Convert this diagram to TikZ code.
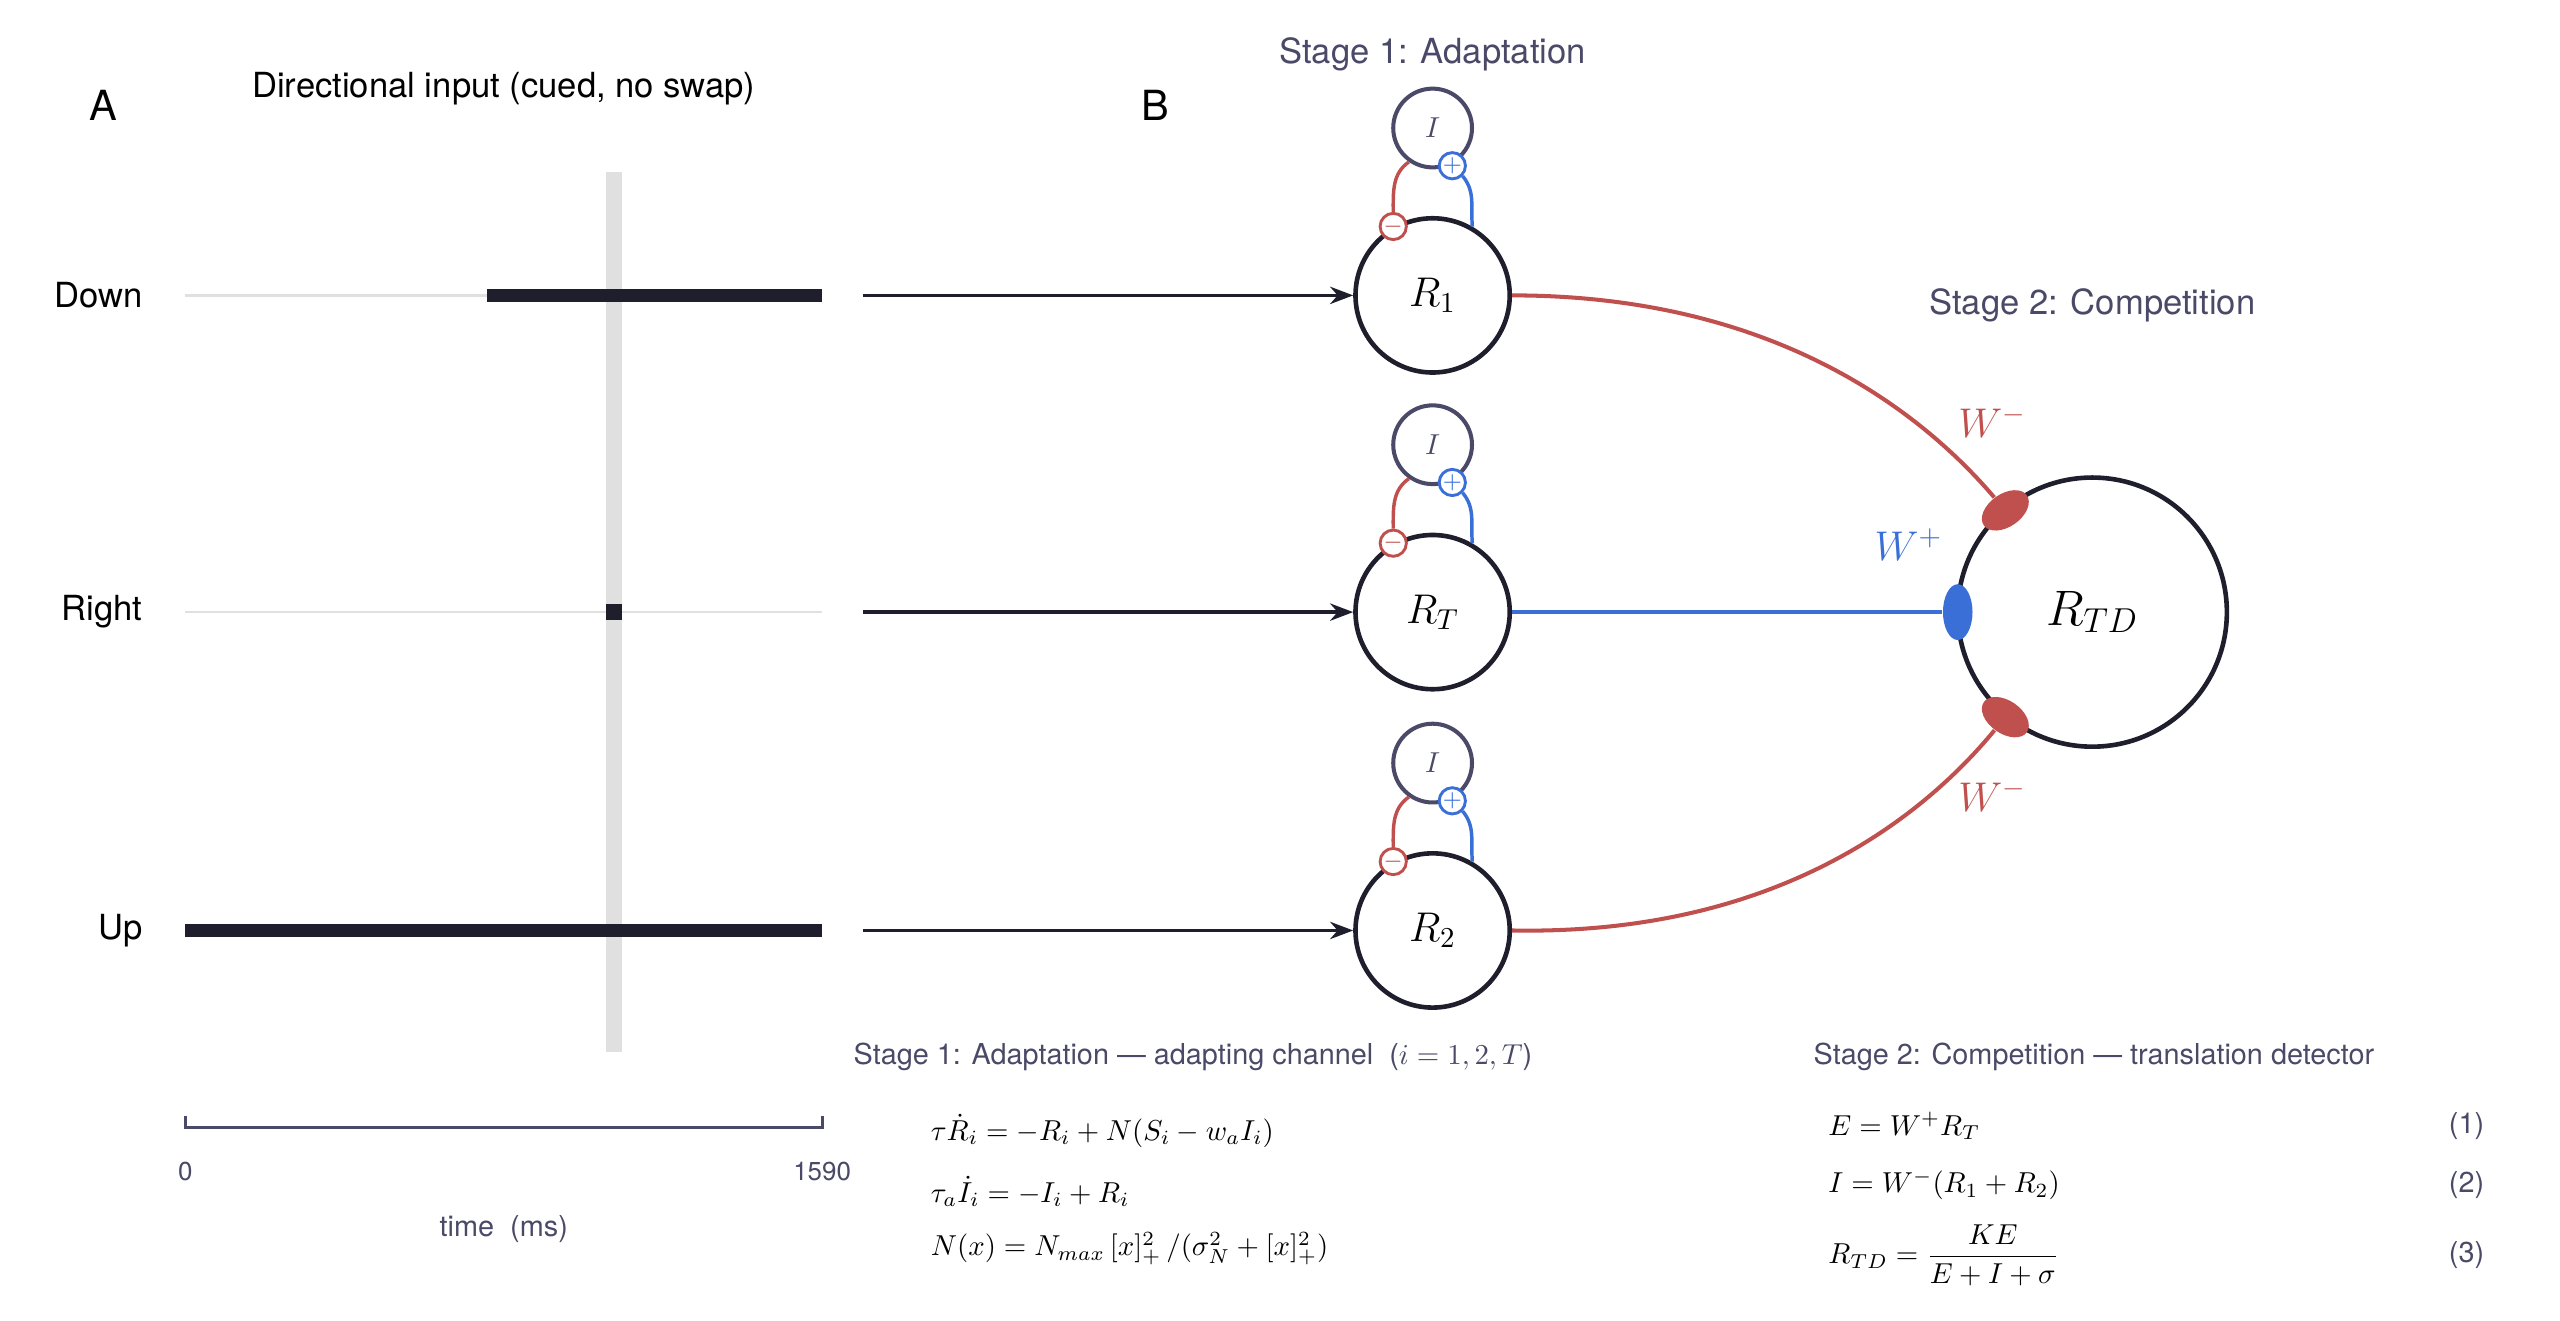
\documentclass[tikz,border=0pt]{standalone}
\usepackage{fontspec}
\setmainfont{TeX Gyre Heros}
\usepackage{amsmath}
\usetikzlibrary{positioning,calc,arrows.meta,shapes.geometric}
\definecolor{ink}{HTML}{1E1E2C}
\definecolor{slate}{HTML}{4A4A68}
\definecolor{redw}{HTML}{C0504D}
\definecolor{bluew}{HTML}{3A6FD8}
\definecolor{band}{HTML}{E0E0E0}
\newcommand{\pu}{*0.02cm}
\tikzset{
  unit/.style={circle, draw=ink, line width=1.6pt, minimum size=94\pu, inner sep=0pt, font=\Large},
  inh/.style={circle, draw=slate, line width=1.4pt, minimum size=48\pu, inner sep=0pt},
  plus/.style={circle, draw=bluew, fill=white, line width=1pt, minimum size=16\pu, inner sep=0pt, text=bluew, font=\footnotesize},
  minus/.style={circle, draw=redw, fill=white, line width=1pt, minimum size=16\pu, inner sep=0pt, text=redw, font=\footnotesize},
  rowlabel/.style={anchor=east, font=\large},
  feed/.style={-{Stealth[length=8pt]}, line width=1.2pt, draw=ink},
  stage/.style={text=slate, font=\large},
}
\begin{document}
\begin{tikzpicture}[x=0.02cm, y=-0.02cm]
\useasboundingbox (0,0) rectangle (1560,804.4);

% panel A
\node[font=\Large] (labA) at (63,64) {A};
\node[font=\large] (titA) at (307,54) {Directional input (cued, no swap)};
\fill[band] (369,105) rectangle (379,641);
\foreach \name/\yy in {Down/180, Right/373, Up/567}{
  \node[rowlabel] (lab\name) at (93,\yy) {\name};
  \draw[band, line width=0.8pt] (113,\yy) -- (501,\yy);
}
\draw[ink, line width=8\pu] (297,180) -- (501,180);
\fill[ink] (369,368) rectangle (379,378);
\draw[ink, line width=8\pu] (113,567) -- (501,567);
\draw[slate, line width=1pt] (113,680) -- (113,687) -- (501,687) -- (501,680);
\node[font=\small, text=slate] (t0) at (113,714) {0};
\node[font=\small, text=slate] (t1) at (501,714) {1590};
\node[text=slate] (tax) at (307,749) {time\ \ (ms)};

% panel B
\node[font=\Large] (labB) at (704,64) {B};
\node[stage] (st1) at (873,33) {Stage 1: Adaptation};
\node[stage] (st2) at (1275,186) {Stage 2: Competition};

\foreach \name/\lab/\yy in {one/R_1/180, tee/R_T/373, two/R_2/567}{
  \coordinate (in\name) at (526,\yy);
  \node[unit] (r\name) at (873,\yy) {$\lab$};
  \node[inh] (i\name) at ($(r\name)+(0,-102)$) {\textcolor{slate}{$I$}};
  \node[plus] (p\name) at ($(i\name)+(12,23)$) {$+$};
  \node[minus] (m\name) at ($(r\name)+(-24,-42)$) {$-$};
  \draw[feed] (in\name) -- (r\name.west);
  \draw[redw, line width=1.2pt] (i\name.235) to[out=215, in=90] (m\name.north);
  \draw[bluew, line width=1.2pt] (p\name.south east) to[out=-50, in=95] (r\name.60);
}

\node[unit, minimum size=164\pu, font=\LARGE] (rtd) at (1275,373) {$R_{TD}$};
\node[ellipse, fill=bluew, minimum width=18\pu, minimum height=34\pu, inner sep=0pt] (sb) at (1193,373) {};
\node[ellipse, fill=redw, minimum width=32\pu, minimum height=20\pu, inner sep=0pt, rotate=35] (su) at (1222,311) {};
\node[ellipse, fill=redw, minimum width=32\pu, minimum height=20\pu, inner sep=0pt, rotate=-35] (sl) at (1222,437) {};
\draw[redw, line width=1.4pt] (rone.east) .. controls (1080,180) and (1170,250) .. (su);
\draw[redw, line width=1.4pt] (rtwo.east) .. controls (1080,570) and (1170,500) .. (sl);
\draw[bluew, line width=1.6pt] (rtee.east) -- (sb);
\node[text=redw, font=\Large] (wa) at (1214,257) {$W^-$};
\node[text=redw, font=\Large] (wb) at (1214,485) {$W^-$};
\node[text=bluew, font=\Large] (wc) at (1163,332) {$W^+$};

% equations
\node[text=slate, anchor=west] (cap1) at (514,644) {Stage 1: Adaptation --- adapting channel\ \ ($i=1,2,T$)};
\node[anchor=west] (e1) at (561,689) {$\tau\dot R_i = -R_i + N(S_i - w_a I_i)$};
\node[anchor=west] (e2) at (561,726) {$\tau_a\dot I_i = -I_i + R_i$};
\node[anchor=west] (e3) at (561,761) {$N(x) = N_{max}\,[x]_+^2\,/(\sigma_N^2+[x]_+^2)$};
\node[text=slate, anchor=west] (cap2) at (1099,644) {Stage 2: Competition --- translation detector};
\node[anchor=west] (f1) at (1108,686) {$E = W^+R_T$};
\node[anchor=west] (f2) at (1108,722) {$I = W^-(R_1+R_2)$};
\node[anchor=west] (f3) at (1108,765) {$R_{TD} = \dfrac{KE}{E+I+\sigma}$};
\node[anchor=east, text=slate] (n1) at (1520,686) {(1)};
\node[anchor=east, text=slate] (n2) at (1520,722) {(2)};
\node[anchor=east, text=slate] (n3) at (1520,765) {(3)};
\end{tikzpicture}
\end{document}
